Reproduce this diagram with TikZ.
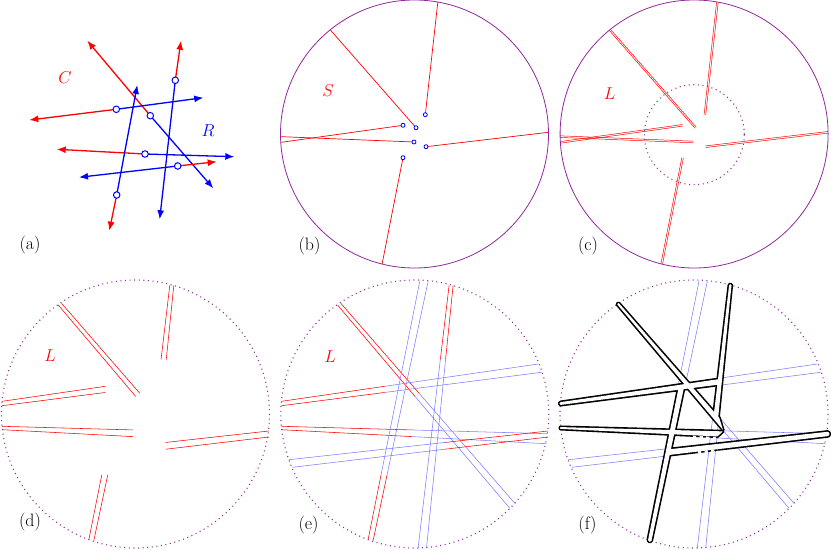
\documentclass[tikz,border=0pt]{standalone}
\usetikzlibrary{calc,arrows.meta}
\definecolor{circ}{RGB}{145,40,155}
\definecolor{lblue}{RGB}{125,125,255}
\newcommand\seg[5]{\draw[#4] (#1) -- ($(#1)!#3!(#2)$); \draw[#5] ($(#1)!#3!(#2)$) -- (#2);}
\newcommand\strips[2]{%
  \seg{-77.3,-109}{95,94.3}{.45}{#1}{#2}
  \seg{-74,-110.7}{100,89.3}{.45}{#1}{#2}
  \seg{34.3,-128.7}{3.3,134}{.283}{#1}{#2}
  \seg{38.3,-128.7}{11.7,134}{.283}{#1}{#2}
  \seg{-133.3,-12.7}{123.3,-50}{.403}{#1}{#2}
  \seg{-133.3,-8.3}{126.7,-41.7}{.397}{#1}{#2}
  \seg{-133.3,12.3}{132.2,19.7}{.492}{#1}{#2}
  \seg{-133.3,15.7}{131.5,29.7}{.494}{#1}{#2}
  \seg{133.3,17}{-125.7,45.7}{.399}{#1}{#2}
  \seg{133.3,23}{-122.3,53.3}{.404}{#1}{#2}
  \seg{-46.7,125.7}{5,-132.7}{.2515}{#1}{#2}
  \seg{-41.7,126.7}{13.3,-132.7}{.254}{#1}{#2}}
% one piece of the outlined band in (f), shrunk a little towards its middle
\def\sh{0.8bp}
\newcommand\pc[5]{%
  \path[#1] ($(#2)!\sh!(#5)$) -- ($(#3)!\sh!(#4)$) -- ($(#4)!\sh!(#3)$) -- ($(#5)!\sh!(#2)$) -- cycle;}
\newcommand\fpieces[1]{%
  \pc{#1}{-77.3,-109}{29.3,16.8}{25,3.05}{-74,-110.7}
  \path[#1] (-75.65,-109.85) circle (1.05);
  \pc{#1}{34.3,-128.7}{19.1,0}{25,3.05}{38.3,-128.7}
  \path[#1] (36.3,-128.7) circle (1.2);
  \pc{#1}{-133.3,-12.7}{25.8,-35.8}{25.8,-28.7}{-133.3,-8.3}
  \path[#1] (-133.3,-10.5) circle (1.4);
  \pc{#1}{-133.3,12.3}{29.3,16.8}{22.9,23.0}{-133.3,15.7}
  \path[#1] (-133.3,14) circle (0.9);
  \pc{#1}{133.3,17}{-25,34.5}{-25,41.8}{133.3,23}
  \path[#1] (133.3,20) circle (2.2);
  \pc{#1}{-46.7,125.7}{-16.1,-27}{-9.1,-27}{-41.7,126.7}
  \path[#1] (-44.2,126.2) circle (1.75);}
\begin{document}
\begin{tikzpicture}[x=1bp,y=-1bp,
  every node/.style={font=\fontsize{18}{20}\selectfont},
  arr/.style={line width=1.3bp,-{Latex[length=9bp,width=7bp]}},
  apt/.style={circle,draw=blue,fill=white,line width=1bp,inner sep=0pt,minimum size=6.5bp},
  bpt/.style={circle,draw=blue,fill=white,line width=0.8bp,inner sep=0pt,minimum size=4bp},
  rim/.style={draw=circ,line width=0.8bp},
  dotrim/.style={draw=circ,line width=1.1bp,dash pattern=on 1bp off 3.6bp},
  sred/.style={draw=red,line width=0.7bp},
  cred/.style={draw=red,line width=0.5bp},
  dred/.style={draw=red,line width=0.55bp},
  dblue/.style={draw=lblue,line width=0.55bp},
  nodraw/.style={draw=none},
  blk/.style={draw=black,line width=3.2bp,line join=round},
  wht/.style={fill=white},
  gap/.style={draw=white,line width=2.2bp,dash pattern=on 3.2bp off 3.4bp}
]
\useasboundingbox (0,0) rectangle (831,550);
% ---------- (a)
\coordinate (a1) at (150.3,115.7); \coordinate (a1r) at (87.3,40.7);  \coordinate (a1b) at (213.3,188.3);
\coordinate (a2) at (175.3,80.3);  \coordinate (a2r) at (181,40.7);   \coordinate (a2b) at (159.7,219.3);
\coordinate (a3) at (116.3,109.3); \coordinate (a3r) at (29.3,120);   \coordinate (a3b) at (203.3,97.7);
\coordinate (a4) at (145,154);     \coordinate (a4r) at (56.7,149.3); \coordinate (a4b) at (234.3,156.7);
\coordinate (a5) at (177.7,166);   \coordinate (a5r) at (216.7,161.7);\coordinate (a5b) at (79,177.3);
\coordinate (a6) at (116.7,195);   \coordinate (a6r) at (109.3,230.7);\coordinate (a6b) at (137.3,85);
\foreach \k in {1,...,6}{
  \draw[arr,red] (a\k) -- (a\k r);
  \draw[arr,blue] (a\k) -- (a\k b);}
\foreach \k in {1,...,6}{\node[apt] (pa\k) at (a\k) {};}
\node[red] (lC) at (65,78) {$C$};
\node[blue] (lR) at (208,131) {$R$};
\node (la) at (30,245) {(a)};
% ---------- (b)
\begin{scope}
\clip (414.5,134) circle (134);
\foreach \ix/\iy/\ox/\oy [count=\k] in {425.3/114.7/438.3/-2.3, 416/127.7/326.8/25.9, 403/125.3/274.9/143.2, 414/142/274.4/136.4, 426/146.7/554.4/131.6, 403/157.7/381/269.6}{
  \draw[sred] (\ix,\iy) -- (\ox,\oy);}
\end{scope}
\foreach \ix/\iy [count=\k] in {425.3/114.7, 416/127.7, 403/125.3, 414/142, 426/146.7, 403/157.7}{
  \node[bpt] (pb\k) at (\ix,\iy) {};}
\draw[rim] (414.5,134) circle (134);
\node[red] (lS) at (328,91) {$S$};
\node (lb) at (309.5,246) {(b)};
% ---------- (c)
\begin{scope}[shift={(279.6,0)}]
\clip (414.5,134) circle (134);
\foreach \ix/\iy/\ox/\oy [count=\k] in {425.3/114.7/438.3/-2.3, 416/127.7/326.8/25.9, 403/125.3/274.9/143.2, 414/142/274.4/136.4, 426/146.7/554.4/131.6, 403/157.7/381/269.6}{
  \draw[cred] ($(\ix,\iy)!0.8bp!90:(\ox,\oy)$) -- ($(\ox,\oy)!0.8bp!-90:(\ix,\iy)$);
  \draw[cred] ($(\ix,\iy)!0.8bp!-90:(\ox,\oy)$) -- ($(\ox,\oy)!0.8bp!90:(\ix,\iy)$);}
\end{scope}
\draw[rim] (694.1,134) circle (134);
\draw[dotrim] (694.3,134.7) circle (50);
\node[red] (lLc) at (609.5,94) {$L$};
\node (lc) at (588,246) {(c)};
% ---------- (d)
\begin{scope}[shift={(135.5,414)}]
\strips{dred}{nodraw}
\draw[dotrim] (0,0) circle (134);
\end{scope}
\node[red] (lLd) at (50,356) {$L$};
\node (ld) at (30,522) {(d)};
% ---------- (e)
\begin{scope}[shift={(414.8,414)}]
\strips{dred}{dblue}
\draw[dotrim] (0,0) circle (134);
\end{scope}
\node[red] (lLe) at (330,357) {$L$};
\node (le) at (308.5,525) {(e)};
% ---------- (f)
\begin{scope}[shift={(694,414)}]
\strips{nodraw}{dblue}
\draw[dotrim] (0,0) circle (134);
\fpieces{blk}
\fpieces{wht}
\draw[gap] (-1,22.8) -- (22,24.1);
\draw[gap] (4,38.4) -- (24,36.0);
\end{scope}
\node (lf) at (587.5,525.5) {(f)};
\end{tikzpicture}
\end{document}
